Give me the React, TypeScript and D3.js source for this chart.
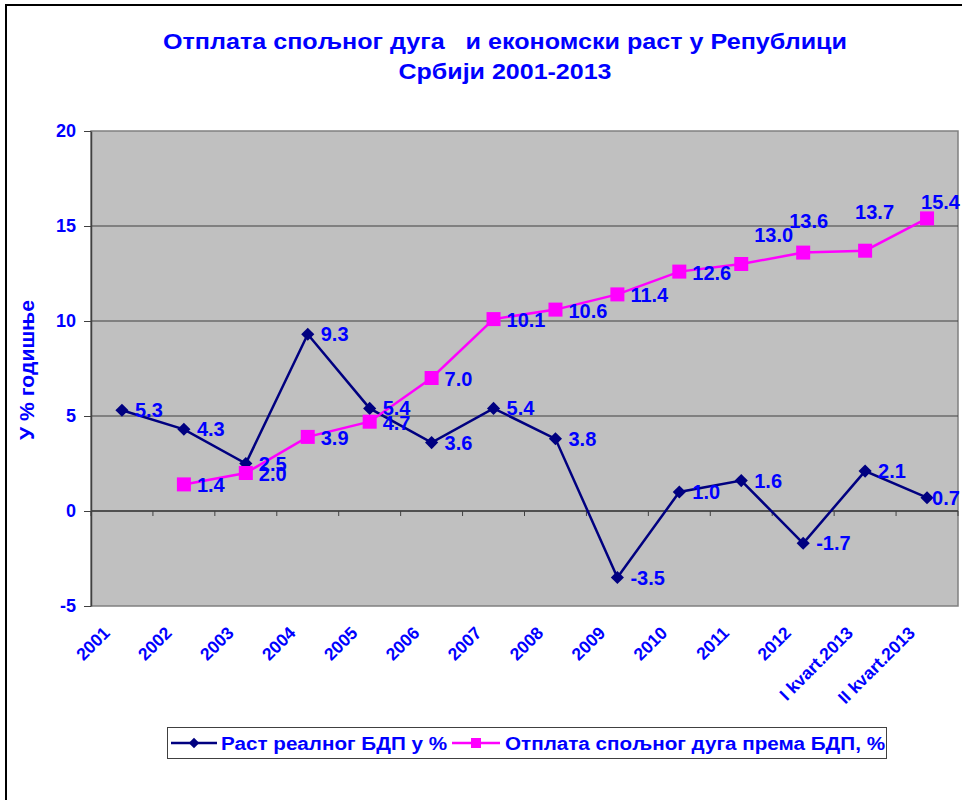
import { useRef, useEffect } from "react";
import * as d3 from "d3";

const categories = [
	"2001", "2002", "2003", "2004", "2005", "2006", "2007",
	"2008", "2009", "2010", "2011", "2012", "I kvart.2013", "II kvart.2013",
];
// Раст реалног БДП у %
const gdpGrowth = [5.3, 4.3, 2.5, 9.3, 5.4, 3.6, 5.4, 3.8, -3.5, 1.0, 1.6, -1.7, 2.1, 0.7];
// Отплата спољног дуга према БДП, %
const debtRepayment = [null, 1.4, 2.0, 3.9, 4.7, 7.0, 10.1, 10.6, 11.4, 12.6, 13.0, 13.6, 13.7, 15.4];
const yTicks = [-5, 0, 5, 10, 15, 20];

const seriesNames = ["Раст реалног БДП у %", "Отплата спољног дуга према БДП, %"];
const titleLines = ["Отплата спољног дуга   и економски раст у Републици", "Србији 2001-2013"];
const yTitle = "У % годишње";

// label nudges where Excel moved labels off the default right-hand spot
const debtLabelShift: Record<number, [number, number]> = {
	10: [0, -30],
	11: [-27, -33],
	12: [-23, -40],
	13: [-19, -17],
};
const gdpLabelShift: Record<number, [number, number]> = {
	13: [-8, 0],
};

const BLUE = "#0000ff";
const NAVY = "#000080";
const PINK = "#ff00ff";
const FONT = "'Liberation Sans', Arial, sans-serif";

const App = () => {
	const svgRef = useRef<SVGSVGElement>(null);

	useEffect(() => {
		document.body.style.margin = "0";
		document.body.style.overflow = "hidden";

		const w = 962;
		const h = 800;
		const svg = d3.select(svgRef.current)
			.attr("width", w)
			.attr("height", h)
			.attr("viewBox", `0 0 ${w} ${h}`)
			.style("display", "block")
			.style("font-family", FONT);
		svg.selectAll("*").remove();

		const left = 91, right = 958, top = 131, bottom = 606;

		svg.append("rect").attr("width", w).attr("height", h).attr("fill", "white");

		// title
		titleLines.forEach((t, i) => {
			svg.append("text")
				.attr("x", 505)
				.attr("y", 49 + i * 30)
				.attr("text-anchor", "middle")
				.attr("font-size", 22)
				.attr("font-weight", "bold")
				.attr("fill", BLUE)
				.style("white-space", "pre")
				.attr("textLength", i === 0 ? 684 : 213)
				.attr("lengthAdjust", "spacingAndGlyphs")
				.text(t);
		});

		const x = d3.scaleBand<string>().domain(categories).range([left, right]).padding(0);
		const cx = (c: string) => (x(c) as number) + x.bandwidth() / 2;
		const y = d3.scaleLinear().domain([-5, 20]).range([bottom, top]);

		// plot area
		svg.append("rect")
			.attr("x", left).attr("y", top)
			.attr("width", right - left).attr("height", bottom - top)
			.attr("fill", "#c0c0c0")
			.attr("stroke", "#808080").attr("stroke-width", 1.5);

		// gridlines
		svg.append("g")
			.selectAll("line")
			.data(yTicks.filter((t) => t > -5 && t < 20))
			.join("line")
			.attr("x1", left).attr("x2", right)
			.attr("y1", (d) => y(d)).attr("y2", (d) => y(d))
			.attr("stroke", "#404040").attr("stroke-width", 1);

		// y axis
		const yAxis = d3.axisLeft(y)
			.tickValues(yTicks)
			.tickSize(7)
			.tickPadding(8)
			.tickSizeOuter(0);
		const gy = svg.append("g").attr("transform", `translate(${left}, 0)`).call(yAxis);
		gy.select(".domain").attr("stroke", "#404040").attr("stroke-width", 1.5);
		gy.selectAll(".tick line").attr("stroke", "#404040");
		gy.selectAll(".tick text")
			.attr("fill", BLUE)
			.attr("font-size", 18)
			.attr("font-weight", "bold")
			.attr("font-family", FONT)
			.text((d: any) => String(d));

		// x axis along the zero line, ticks between categories
		const boundaries = d3.range(categories.length + 1).map((i) => left + i * x.bandwidth());
		svg.append("line")
			.attr("x1", left).attr("x2", right)
			.attr("y1", y(0)).attr("y2", y(0))
			.attr("stroke", "#404040").attr("stroke-width", 1.5);
		svg.append("g")
			.selectAll("line")
			.data(boundaries)
			.join("line")
			.attr("x1", (d) => d).attr("x2", (d) => d)
			.attr("y1", y(0)).attr("y2", y(0) + 5)
			.attr("stroke", "#404040");

		// x labels
		svg.append("g")
			.selectAll("text")
			.data(categories)
			.join("text")
			.attr("transform", (d) => `translate(${cx(d) - 11}, ${bottom + 28}) rotate(-45)`)
			.attr("text-anchor", "end")
			.attr("font-size", 17.5)
			.attr("font-weight", "bold")
			.attr("fill", BLUE)
			.text((d) => d);

		// y title
		svg.append("text")
			.attr("transform", `translate(34, 370) rotate(-90)`)
			.attr("text-anchor", "middle")
			.attr("font-size", 20)
			.attr("font-weight", "bold")
			.attr("fill", BLUE)
			.style("white-space", "pre")
			.attr("textLength", 140)
			.attr("lengthAdjust", "spacingAndGlyphs")
			.text(yTitle);

		const line = d3.line<number | null>()
			.defined((d) => d !== null)
			.x((_, i) => cx(categories[i]))
			.y((d) => y(d as number));

		const diamond = d3.symbol().type(d3.symbolDiamond2).size(110);

		// GDP growth
		svg.append("path")
			.datum(gdpGrowth)
			.attr("fill", "none")
			.attr("stroke", NAVY)
			.attr("stroke-width", 2.5)
			.attr("d", line as any);
		svg.append("g")
			.selectAll("path")
			.data(gdpGrowth)
			.join("path")
			.attr("transform", (d, i) => `translate(${cx(categories[i])}, ${y(d)})`)
			.attr("d", diamond)
			.attr("fill", NAVY);

		// debt repayment
		svg.append("path")
			.datum(debtRepayment)
			.attr("fill", "none")
			.attr("stroke", PINK)
			.attr("stroke-width", 2.5)
			.attr("d", line as any);
		const debtPts = debtRepayment
			.map((v, i) => ({ v, i }))
			.filter((d) => d.v !== null) as { v: number; i: number }[];
		svg.append("g")
			.selectAll("rect")
			.data(debtPts)
			.join("rect")
			.attr("x", (d) => cx(categories[d.i]) - 7)
			.attr("y", (d) => y(d.v) - 7)
			.attr("width", 14).attr("height", 14)
			.attr("fill", PINK);

		// data labels
		const labels = svg.append("g")
			.attr("font-size", 20)
			.attr("font-weight", "bold")
			.attr("fill", BLUE);
		gdpGrowth.forEach((v, i) => {
			const [dx, dy] = gdpLabelShift[i] || [0, 0];
			labels.append("text")
				.attr("x", cx(categories[i]) + 13 + dx)
				.attr("y", y(v) + 7 + dy)
				.text(v.toFixed(1));
		});
		debtPts.forEach((d) => {
			const [dx, dy] = debtLabelShift[d.i] || [0, 0];
			labels.append("text")
				.attr("x", cx(categories[d.i]) + 13 + dx)
				.attr("y", y(d.v) + 8 + dy)
				.text(d.v.toFixed(1));
		});

		// legend
		const lg = svg.append("g");
		lg.append("rect")
			.attr("x", 167.5).attr("y", 727.5)
			.attr("width", 719).attr("height", 31)
			.attr("fill", "white")
			.attr("stroke", "#404040").attr("stroke-width", 1);
		const ly = 743;
		lg.append("line").attr("x1", 171).attr("x2", 217).attr("y1", ly).attr("y2", ly)
			.attr("stroke", NAVY).attr("stroke-width", 2.5);
		lg.append("path").attr("transform", `translate(194, ${ly})`)
			.attr("d", d3.symbol().type(d3.symbolDiamond2).size(70)).attr("fill", NAVY);
		lg.append("line").attr("x1", 452).attr("x2", 500).attr("y1", ly).attr("y2", ly)
			.attr("stroke", PINK).attr("stroke-width", 2.5);
		lg.append("rect").attr("x", 471).attr("y", ly - 5).attr("width", 10).attr("height", 10)
			.attr("fill", PINK);
		[[221, 226], [505, 380]].forEach(([lx, len], i) => {
			lg.append("text")
				.attr("x", lx).attr("y", ly + 6.5)
				.attr("font-size", 18)
				.attr("font-weight", "bold")
				.attr("fill", BLUE)
				.attr("textLength", len)
				.attr("lengthAdjust", "spacingAndGlyphs")
				.text(seriesNames[i]);
		});

		// chart frame: only its left and top edges fall inside the picture
		svg.append("line")
			.attr("x1", 6).attr("x2", 6).attr("y1", 4).attr("y2", h)
			.attr("stroke", "black").attr("stroke-width", 2);
		svg.append("line")
			.attr("x1", 5).attr("x2", w).attr("y1", 5).attr("y2", 5)
			.attr("stroke", "black").attr("stroke-width", 2);
	}, []);

	return (
		<div>
			<svg ref={svgRef}></svg>
		</div>
	);
};

export default App;
